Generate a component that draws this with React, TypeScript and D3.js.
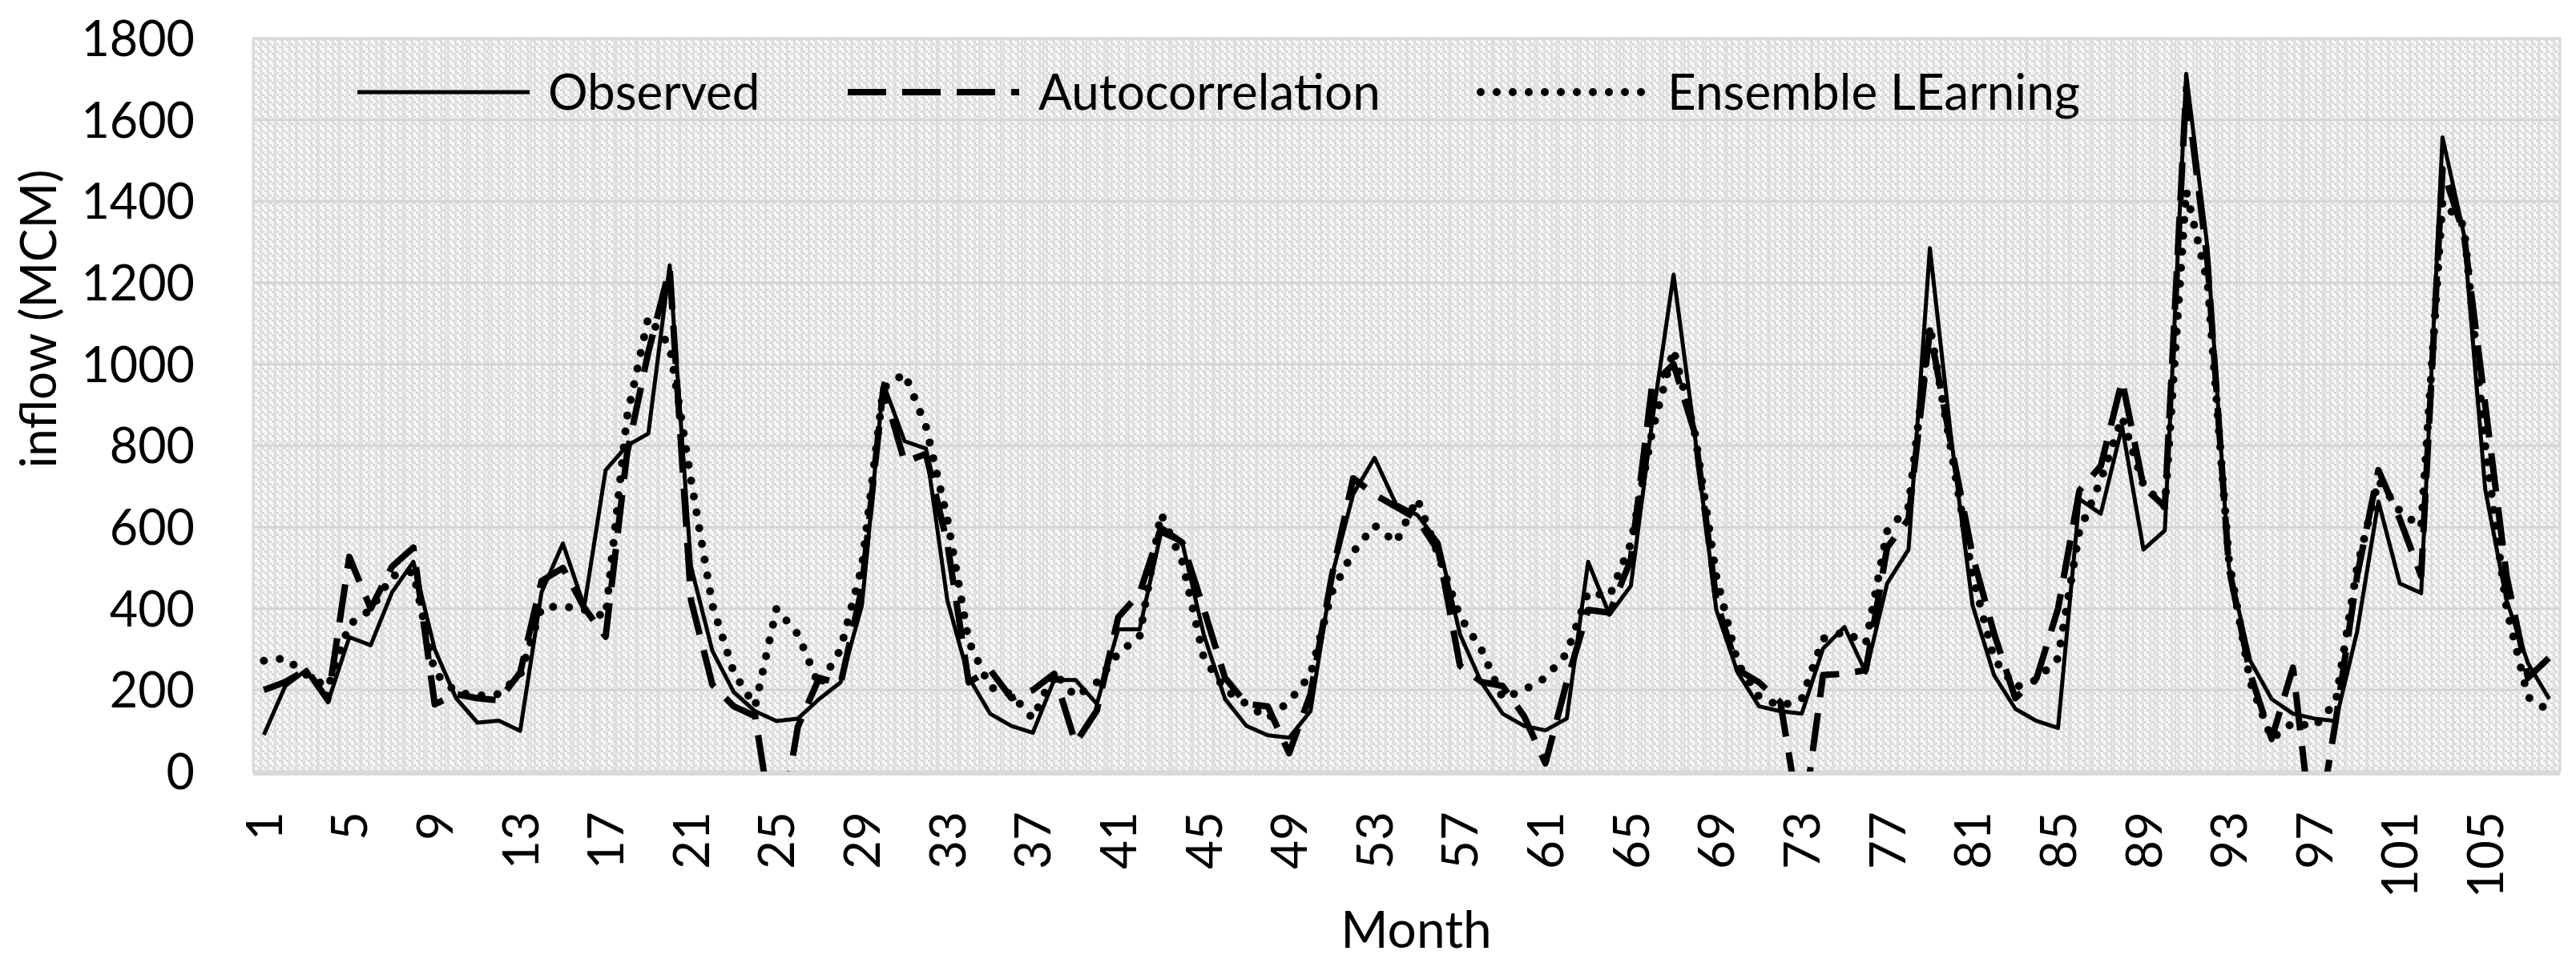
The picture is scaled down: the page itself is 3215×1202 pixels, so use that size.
import { useEffect, useRef } from 'react';
import * as d3 from 'd3';

// months 1..108 on a category axis
const months: number[] = Array.from({ length: 108 }, (_, i) => i + 1);

const observed = [
  90, 210, 250, 170, 330, 310, 440, 515, 300, 180, 120, 125, 100, 440, 560, 405, 740, 800,
  830, 1243, 503, 296, 195, 148, 124, 130, 178, 219, 408, 953, 811, 793, 420, 231, 142, 112,
  95, 225, 225, 166, 349, 349, 586, 562, 337, 178, 112, 89, 83, 148, 480, 681, 770, 657,
  630, 562, 337, 219, 142, 112, 101, 130, 515, 385, 456, 860, 1220, 823, 397, 243, 160, 148,
  142, 302, 355, 243, 462, 545, 1285, 817, 408, 237, 154, 124, 107, 669, 633, 847, 545, 592,
  1713, 1285, 503, 272, 178, 142, 130, 124, 343, 663, 462, 438, 1557, 1320, 693, 420, 266, 178,
];

const autocorrelation = [
  200, 220, 250, 175, 527, 400, 503, 550, 165, 190, 180, 175, 243, 468, 500, 402, 331, 780,
  1030, 1235, 420, 213, 160, 136, -200, 110, 230, 215, 450, 941, 760, 780, 560, 219, 250, 180,
  200, 240, 70, 150, 379, 438, 598, 562, 400, 230, 166, 160, 45, 190, 480, 720, 680, 650,
  620, 540, 260, 220, 210, 136, 20, 220, 397, 390, 520, 950, 1000, 830, 420, 250, 219, 170,
  -150, 237, 240, 249, 550, 620, 1083, 800, 530, 340, 180, 230, 400, 690, 750, 960, 700, 650,
  1680, 1250, 500, 240, 80, 255, -200, 124, 480, 740, 620, 480, 1480, 1320, 900, 480, 230, 280,
];

const ensemble = [
  272, 278, 237, 207, 361, 397, 480, 490, 243, 195, 186, 190, 237, 402, 406, 397, 380, 870,
  1115, 1045, 716, 408, 243, 160, 400, 337, 210, 300, 503, 941, 977, 847, 620, 320, 207, 190,
  130, 243, 184, 219, 290, 331, 633, 515, 280, 201, 166, 130, 172, 237, 440, 539, 604, 562,
  670, 530, 380, 300, 180, 200, 230, 290, 440, 430, 560, 835, 1036, 830, 480, 266, 184, 160,
  178, 326, 343, 314, 590, 650, 1094, 787, 480, 278, 207, 225, 278, 590, 715, 870, 704, 650,
  1426, 1200, 520, 220, 80, 120, 110, 170, 500, 715, 640, 600, 1400, 1340, 800, 400, 183, 148,
];

const yTicks = [0, 200, 400, 600, 800, 1000, 1200, 1400, 1600, 1800];
const xTickLabels = months.filter((m) => (m - 1) % 4 === 0);

const seriesNames = ['Observed', 'Autocorrelation', 'Ensemble LEarning'];

const FONT = 'Lato, "Liberation Sans", sans-serif';

export default function App() {
  const svgRef = useRef<SVGSVGElement>(null);

  useEffect(() => {
    const width = 3215;
    const height = 1202;
    const margin = { top: 48, right: 20, bottom: 239, left: 316 };

    const svg = d3.select(svgRef.current);
    svg.selectAll('*').remove();
    svg.attr('width', width).attr('height', height).attr('viewBox', `0 0 ${width} ${height}`);

    const x = d3
      .scaleBand<number>()
      .domain(months)
      .range([margin.left, width - margin.right]);
    const y = d3
      .scaleLinear()
      .domain([0, 1800])
      .range([height - margin.bottom, margin.top]);

    const cx = (m: number) => (x(m) as number) + x.bandwidth() / 2;

    svg.append('rect').attr('width', width).attr('height', height).attr('fill', '#fff');

    // patterned plot background (light grey, downward diagonal + vertical stripes)
    const defs = svg.append('defs');
    const pat = defs
      .append('pattern')
      .attr('id', 'bgpat')
      .attr('patternUnits', 'userSpaceOnUse')
      .attr('width', 9)
      .attr('height', 9);
    pat.append('rect').attr('width', 9).attr('height', 9).attr('fill', '#f8f8f8');
    pat.append('rect').attr('x', 0).attr('width', 3).attr('height', 9).attr('fill', '#e4e4e4');
    [[3, 0], [6, 3], [0, 6]].forEach(([px, py]) => {
      pat.append('rect').attr('x', px).attr('y', py).attr('width', 3).attr('height', 3).attr('fill', '#d8d8d8');
    });

    defs
      .append('clipPath')
      .attr('id', 'plotclip')
      .append('rect')
      .attr('x', margin.left)
      .attr('y', margin.top - 10)
      .attr('width', width - margin.left - margin.right)
      .attr('height', height - margin.top - margin.bottom + 10);

    svg
      .append('rect')
      .attr('x', margin.left)
      .attr('y', margin.top)
      .attr('width', width - margin.left - margin.right)
      .attr('height', height - margin.top - margin.bottom)
      .attr('fill', 'url(#bgpat)');

    // vertical gridlines between categories
    svg
      .append('g')
      .selectAll('line')
      .data(months)
      .enter()
      .append('line')
      .attr('x1', (d) => x(d) as number)
      .attr('x2', (d) => x(d) as number)
      .attr('y1', margin.top)
      .attr('y2', height - margin.bottom)
      .attr('stroke', '#dcdcdc')
      .attr('stroke-width', 2);

    // horizontal gridlines
    svg
      .append('g')
      .selectAll('line')
      .data(yTicks)
      .enter()
      .append('line')
      .attr('x1', margin.left)
      .attr('x2', width - margin.right)
      .attr('y1', (d) => y(d))
      .attr('y2', (d) => y(d))
      .attr('stroke', '#d4d4d4')
      .attr('stroke-width', 3);

    // plot border
    svg
      .append('rect')
      .attr('x', margin.left)
      .attr('y', margin.top)
      .attr('width', width - margin.left - margin.right)
      .attr('height', height - margin.top - margin.bottom)
      .attr('fill', 'none')
      .attr('stroke', '#d9d9d9')
      .attr('stroke-width', 3);

    // x axis line
    svg
      .append('line')
      .attr('x1', margin.left)
      .attr('x2', width - margin.right)
      .attr('y1', y(0) + 2)
      .attr('y2', y(0) + 2)
      .attr('stroke', '#d9d9d9')
      .attr('stroke-width', 6);

    // y tick labels
    svg
      .append('g')
      .selectAll('text')
      .data(yTicks)
      .enter()
      .append('text')
      .attr('x', 243)
      .attr('y', (d) => y(d))
      .attr('dy', '0.36em')
      .attr('text-anchor', 'end')
      .attr('font-family', FONT)
      .attr('font-size', 61)
      .attr('fill', '#000')
      .text((d) => d);

    // x tick labels, rotated
    svg
      .append('g')
      .selectAll('text')
      .data(xTickLabels)
      .enter()
      .append('text')
      .attr('transform', (d) => `translate(${cx(d)},${y(0) + 50}) rotate(-90)`)
      .attr('dy', '0.36em')
      .attr('text-anchor', 'end')
      .attr('font-family', FONT)
      .attr('font-size', 62)
      .attr('fill', '#000')
      .text((d) => d);

    // axis titles
    svg
      .append('text')
      .attr('transform', `translate(70,398) rotate(-90)`)
      .attr('text-anchor', 'middle')
      .attr('font-family', FONT)
      .attr('font-size', 62)
      .attr('fill', '#000')
      .text('inflow (MCM)');

    svg
      .append('text')
      .attr('x', (margin.left + width - margin.right) / 2 + 12)
      .attr('y', 1183)
      .attr('text-anchor', 'middle')
      .attr('font-family', FONT)
      .attr('font-size', 64)
      .attr('fill', '#000')
      .text('Month');

    // series lines
    const styles = [
      { values: observed, width: 5, dash: null, cap: 'butt' },
      { values: autocorrelation, width: 8, dash: '48 20', cap: 'butt' },
      { values: ensemble, width: 10, dash: '0 20', cap: 'round' },
    ];

    const plot = svg.append('g').attr('clip-path', 'url(#plotclip)');
    styles.forEach((s) => {
      const line = d3
        .line<number>()
        .x((_, i) => cx(months[i]))
        .y((d) => y(d));
      plot
        .append('path')
        .datum(s.values)
        .attr('d', line)
        .attr('fill', 'none')
        .attr('stroke', '#000')
        .attr('stroke-width', s.width)
        .attr('stroke-linejoin', 'round')
        .attr('stroke-linecap', s.cap)
        .attr('stroke-dasharray', s.dash);
    });

    // legend
    const legendItems = [
      { x0: 446, x1: 661, tx: 684 },
      { x0: 1058, x1: 1272, tx: 1296 },
      { x0: 1848, x1: 2058, tx: 2081 },
    ];
    const legend = svg.append('g');
    legendItems.forEach((it, i) => {
      const s = styles[i];
      legend
        .append('line')
        .attr('x1', it.x0)
        .attr('x2', it.x1)
        .attr('y1', 115)
        .attr('y2', 115)
        .attr('stroke', '#000')
        .attr('stroke-width', s.width)
        .attr('stroke-linecap', s.cap)
        .attr('stroke-dasharray', s.dash);
      legend
        .append('text')
        .attr('x', it.tx)
        .attr('y', 115)
        .attr('dy', '0.36em')
        .attr('font-family', FONT)
        .attr('font-size', 62)
        .attr('fill', '#000')
        .text(seriesNames[i]);
    });
  }, []);

  return (
    <div>
      <svg ref={svgRef} style={{ position: 'absolute', left: 0, top: 0, display: 'block' }}></svg>
    </div>
  );
}
